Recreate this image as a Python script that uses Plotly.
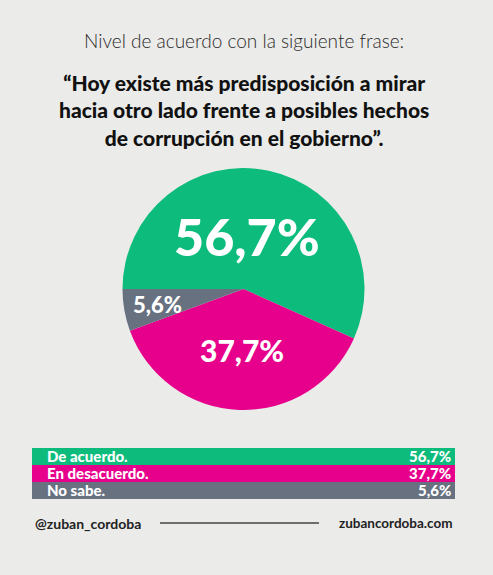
import plotly.graph_objects as go

categories = ["De acuerdo.", "En desacuerdo.", "No sabe."]
values = [56.7, 37.7, 5.6]
colors = ["#0dbc7d", "#e6008b", "#687180"]

subtitle = "Nivel de acuerdo con la siguiente frase:"
quote_lines = [
    "“Hoy existe más predisposición a mirar",
    "hacia otro lado frente a posibles hechos",
    "de corrupción en el gobierno”.",
]
footer_left = "@zuban_cordoba"
footer_right = "zubancordoba.com"

W, H = 493, 575
BG = "#ebebe9"
FONT = "Lato"


def fmt(v):
    return f"{v:.1f}".replace(".", ",") + "%"


def px(x):
    return x / W


def py(y):
    return 1 - y / H


fig = go.Figure()

# pie
cx, cy, r = 243.5, 289, 121
fig.add_trace(go.Pie(
    labels=categories, values=values, sort=False, direction="clockwise",
    rotation=270, textinfo="none", hoverinfo="label+percent",
    marker=dict(colors=colors, line=dict(width=0)),
    domain=dict(x=[px(cx - r), px(cx + r)], y=[py(cy + r), py(cy - r)]),
    showlegend=False,
))

# legend table drawn as full-width bars
fig.add_trace(go.Bar(
    x=[1] * len(categories), y=categories, orientation="h",
    marker=dict(color=colors, line=dict(width=0)), width=1,
    hoverinfo="y", showlegend=False,
))
fig.update_xaxes(range=[0, 1], domain=[px(32), px(455)], visible=False, fixedrange=True)
fig.update_yaxes(domain=[py(501), py(445)], autorange="reversed",
                 visible=False, fixedrange=True)

annotations = []
for cat, v in zip(categories, values):
    annotations.append(dict(
        x=0, y=cat, xref="x", yref="y", text=cat, xshift=13, height=18,
        showarrow=False, xanchor="left", yanchor="middle",
        font=dict(family=FONT, size=15, color="white", weight=900),
    ))
    annotations.append(dict(
        x=1, y=cat, xref="x", yref="y", text=fmt(v), xshift=-2, height=18,
        showarrow=False, xanchor="right", yanchor="middle",
        font=dict(family=FONT, size=15, color="white", weight=900),
    ))

# pie value labels
label_pos = [(247, 236, 52), (242, 350, 30), (157, 304, 22)]
for v, (x, y, s) in zip(values, label_pos):
    annotations.append(dict(
        x=px(x), y=py(y), xref="paper", yref="paper", text=fmt(v),
        showarrow=False, xanchor="center", yanchor="middle",
        font=dict(family=FONT, size=s, color="white", weight=900),
    ))

annotations.append(dict(
    x=px(244), y=py(40), xref="paper", yref="paper", text=subtitle,
    showarrow=False, xanchor="center", yanchor="middle",
    font=dict(family=FONT, size=19, color="#2a2a2a", weight=300),
))
annotations.append(dict(
    x=px(244), y=py(110), xref="paper", yref="paper",
    text="<br>".join(quote_lines), align="center",
    showarrow=False, xanchor="center", yanchor="middle",
    font=dict(family=FONT, size=21, color="#111111", weight=900),
))

annotations.append(dict(
    x=px(33), y=py(523), xref="paper", yref="paper", text=footer_left,
    showarrow=False, xanchor="left", yanchor="middle",
    font=dict(family=FONT, size=14, color="#222222", weight=700),
))
annotations.append(dict(
    x=px(455), y=py(523), xref="paper", yref="paper", text=footer_right,
    showarrow=False, xanchor="right", yanchor="middle",
    font=dict(family=FONT, size=13.5, color="#222222", weight=700),
))

fig.update_layout(
    width=W, height=H,
    margin=dict(l=0, r=0, t=0, b=0),
    paper_bgcolor=BG, plot_bgcolor=BG,
    bargap=0,
    annotations=annotations,
    shapes=[dict(type="line", xref="paper", yref="paper",
                 x0=px(160), x1=px(319), y0=py(523), y1=py(523),
                 line=dict(color="#444444", width=1.5))],
)

fig.write_html("out.html")
